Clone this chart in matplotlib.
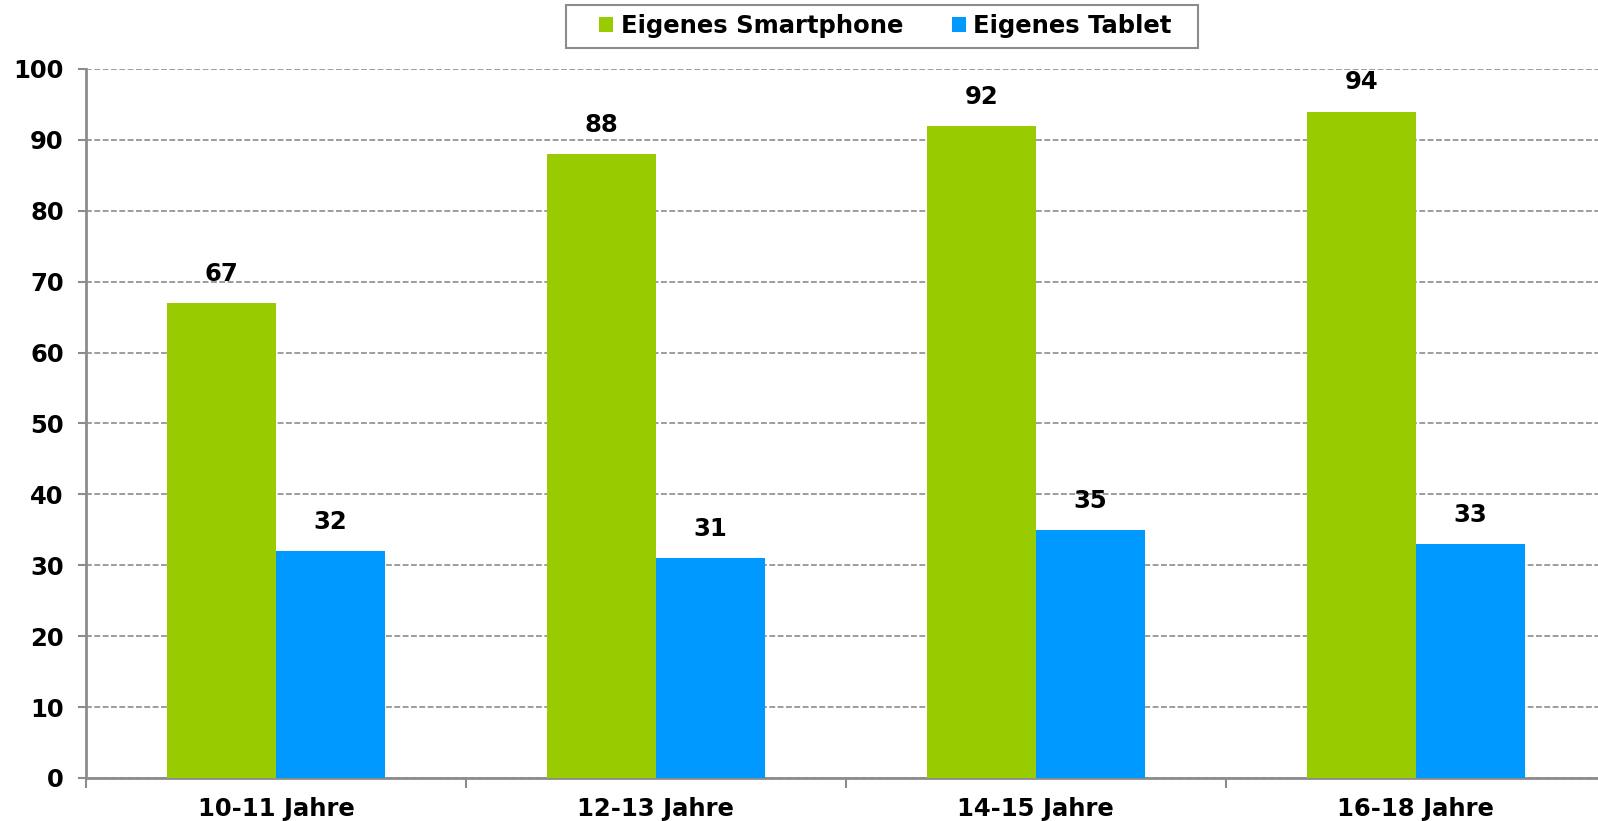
import numpy as np
import matplotlib.pyplot as plt
from matplotlib.patches import Rectangle

age_groups = ['10-11 Jahre', '12-13 Jahre', '14-15 Jahre', '16-18 Jahre']
smartphone = [67, 88, 92, 94]
tablet = [32, 31, 35, 33]

green = '#99CC00'
blue = '#0099FF'
grey = '#8C8C8C'
fs = 17.5

plt.rcParams['font.family'] = ['DejaVu Sans']
plt.rcParams['font.weight'] = 'bold'

fig = plt.figure(figsize=(15.98, 8.21), dpi=100)
ax = fig.add_axes([0.0538, 0.0524, 0.951, 0.8636])

x = np.arange(len(age_groups))
w = 0.287

b1 = ax.bar(x - w / 2, smartphone, w, color=green, label='Eigenes Smartphone', zorder=3)
b2 = ax.bar(x + w / 2, tablet, w, color=blue, label='Eigenes Tablet', zorder=3)

for bars, vals in ((b1, smartphone), (b2, tablet)):
    for rect, v in zip(bars, vals):
        ax.annotate(str(v), (rect.get_x() + rect.get_width() / 2, v),
                    xytext=(0, 21), textcoords='offset points',
                    ha='center', va='center', fontsize=fs, fontweight='bold')

ax.set_xlim(-0.5, len(age_groups) - 0.5)
ax.set_ylim(0, 100)
ax.set_yticks(np.arange(0, 101, 10))
ax.yaxis.grid(True, linestyle=(0, (3.5, 1.5)), color=grey, linewidth=1.2, zorder=0)

# category boundaries get the tick marks, labels sit in the middle
ax.set_xticks(np.arange(-0.5, len(age_groups), 1))
ax.set_xticklabels([])
ax.set_xticks(x, minor=True)
ax.set_xticklabels(age_groups, minor=True, fontsize=fs, fontweight='bold')
ax.tick_params(axis='x', which='minor', length=0, pad=14)
ax.tick_params(axis='x', which='major', length=7, width=1.5, color=grey, direction='out')
ax.tick_params(axis='y', length=6, width=1.5, color=grey, labelsize=fs, pad=10)

for side in ('top', 'right'):
    ax.spines[side].set_visible(False)
for side in ('left', 'bottom'):
    ax.spines[side].set_color(grey)
    ax.spines[side].set_linewidth(2)

# legend without its own frame; a wider box is drawn around it
leg = fig.legend(loc='center', bbox_to_anchor=(0.554, 0.968), ncol=2,
                 fontsize=fs, frameon=False,
                 handlelength=0.6, handleheight=0.6, handletextpad=0.3,
                 columnspacing=2.0, borderaxespad=0)
for t in leg.get_texts():
    t.set_fontweight('bold')

fig.patches.append(Rectangle((566 / 1598, 1 - 48 / 821), 632 / 1598, 43 / 821,
                             transform=fig.transFigure, fill=False,
                             edgecolor=grey, linewidth=1.5))

fig.savefig('out.png', dpi=100)
